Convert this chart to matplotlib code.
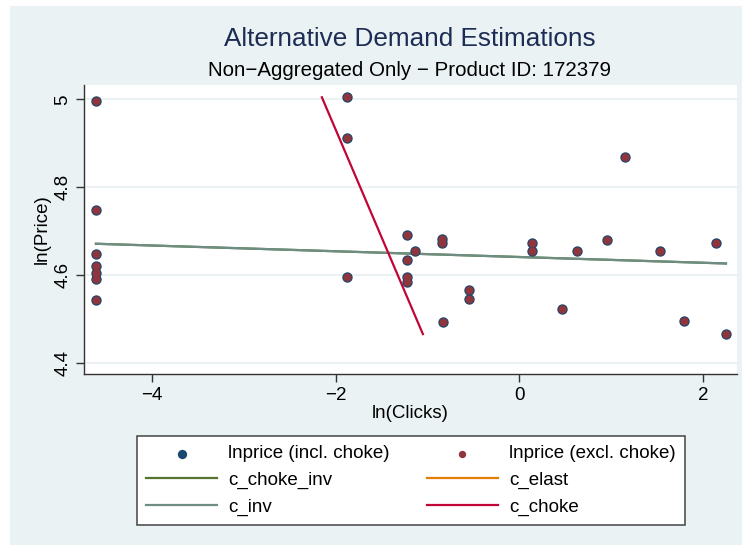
import numpy as np
import matplotlib
matplotlib.use("Agg")
import matplotlib.pyplot as plt
from matplotlib.patches import Rectangle

# observed points (log clicks, log price)
ln_clicks = [-4.61, -4.61, -4.61, -4.61, -4.61, -4.61, -4.61,
             -1.88, -1.88, -1.88,
             -1.22, -1.14, -1.22, -1.22, -1.22,
             -0.84, -0.84, -0.83, -0.55, -0.55,
             0.14, 0.14, 0.46, 0.63, 0.95, 1.15, 1.53, 1.79, 2.14, 2.25]
ln_price = [4.997, 4.749, 4.648, 4.620, 4.605, 4.590, 4.543,
            5.005, 4.913, 4.596,
            4.692, 4.654, 4.635, 4.596, 4.583,
            4.682, 4.672, 4.492, 4.565, 4.546,
            4.673, 4.654, 4.522, 4.654, 4.680, 4.869, 4.654, 4.494, 4.673, 4.465]

# fitted curves
inv_x = [-4.61, 2.25]
inv_y = [4.671, 4.626]
choke_inv_x = [-4.61, 2.25]
choke_inv_y = [4.671, 4.626]
elast_x = []
elast_y = []
choke_x = [-2.15, -1.05]
choke_y = [5.005, 4.465]

NAVY = "#1A476F"
MAROON = "#90353B"
FOREST = "#55752F"
DKORANGE = "#E37E00"
TEAL = "#6E8E84"
CRANBERRY = "#C10534"
BG = "#EAF2F3"
FS = 13.5

plt.rcParams["font.family"] = ["Liberation Sans", "DejaVu Sans"]

W, H = 742, 545
fig = plt.figure(figsize=(W / 100, H / 100), dpi=100, facecolor="white")
# graph region (white margin on the top and left edges)
fig.patches.append(Rectangle((10 / W, 0), 1 - 10 / W, 1 - 6 / H,
                             transform=fig.transFigure, facecolor=BG,
                             edgecolor="none", zorder=-10))

ax = fig.add_axes([84 / W, 1 - 374 / H, (737 - 84) / W, (374 - 85) / H])
ax.set_facecolor("white")

h_incl = ax.scatter(ln_clicks, ln_price, s=56, color=NAVY, zorder=3,
                    label="lnprice (incl. choke)", linewidths=0)
h_excl = ax.scatter(ln_clicks, ln_price, s=34, color=MAROON, zorder=4,
                    label="lnprice (excl. choke)", linewidths=0)
h_ci, = ax.plot(choke_inv_x, choke_inv_y, color=FOREST, lw=1.6, zorder=2,
                label="c_choke_inv")
h_el, = ax.plot(elast_x, elast_y, color=DKORANGE, lw=1.6, zorder=2,
                label="c_elast")
h_inv, = ax.plot(inv_x, inv_y, color=TEAL, lw=1.6, zorder=2, label="c_inv")
h_ch, = ax.plot(choke_x, choke_y, color=CRANBERRY, lw=1.6, zorder=2,
                label="c_choke")

ax.set_xlim(-4.74, 2.37)
ax.set_ylim(4.374, 5.033)
ax.set_xticks([-4, -2, 0, 2])
ax.set_yticks([4.4, 4.6, 4.8, 5.0])
ax.set_yticklabels(["4.4", "4.6", "4.8", "5"], rotation=90, va="center")
ax.grid(axis="y", color=BG, lw=1.4, zorder=0)
ax.set_axisbelow(True)

for side in ["top", "right"]:
    ax.spines[side].set_visible(False)
for side in ["left", "bottom"]:
    ax.spines[side].set_color("#333333")
    ax.spines[side].set_linewidth(1.0)
ax.tick_params(direction="out", length=6, width=1.0, color="#333333",
               labelsize=FS, labelcolor="black", pad=3)

ax.set_xlabel("ln(Clicks)", fontsize=FS, labelpad=1)
ax.set_ylabel("ln(Price)", fontsize=FS, labelpad=3)

fig.text(410 / W, 1 - 46 / H, "Alternative Demand Estimations", ha="center",
         va="baseline", fontsize=18.8, color="#1C2C54")
fig.text(410 / W, 1 - 76 / H, "Non\u2212Aggregated Only \u2212 Product ID: 172379",
         ha="center", va="baseline", fontsize=14.8, color="black")

handles = [h_incl, h_ci, h_inv, h_excl, h_el, h_ch]
leg = fig.legend(handles=handles, loc="upper left",
                 bbox_to_anchor=(137 / W, 1 - 436 / H), ncol=2, fontsize=FS,
                 frameon=True, fancybox=False, framealpha=1,
                 edgecolor="#444444", handlelength=3.77, columnspacing=2.0,
                 handletextpad=0.59, labelspacing=0.5, borderpad=0.5,
                 borderaxespad=0, scatterpoints=1)
leg.get_frame().set_linewidth(1.1)
leg.legend_handles[0].set_sizes([45])
leg.legend_handles[3].set_sizes([28])

fig.savefig("out.png", dpi=100, facecolor="white")
